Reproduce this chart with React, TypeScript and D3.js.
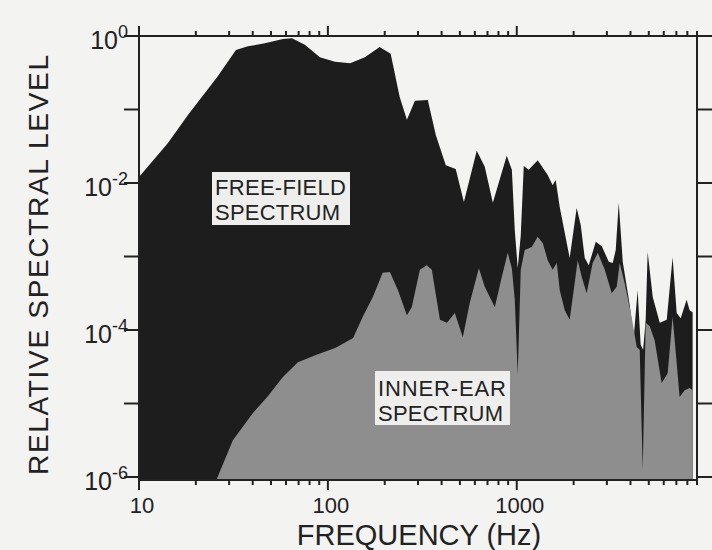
import React from 'react'
import * as d3 from 'd3'

// Free-field spectrum: frequency (Hz) and log10 of the relative level
const freeFieldHz = [
	10, 14.2, 18.2, 25.9, 32.6, 37.7, 46.4, 57.8, 64.5, 75.5, 90.7, 109, 131, 157, 188, 215, 240, 262, 289, 338,
	373, 421, 475, 525, 614, 677, 747, 885, 942, 976, 1012, 1050, 1089, 1157, 1291, 1458, 1549, 1607, 1689, 1906,
	2076, 2181, 2290, 2404, 2620, 2818, 3070, 3222, 3342, 3467, 3640, 3963, 4159, 4365, 4529, 4667, 4814, 4932, 5248,
	5715, 6223, 6685, 7026, 7379, 7932, 8225, 8531,
]
const freeFieldLog = [
	-1.92, -1.46, -1.07, -0.56, -0.19, -0.14, -0.1, -0.04, -0.03, -0.12, -0.29, -0.35, -0.37, -0.29, -0.15, -0.24,
	-0.83, -1.14, -0.88, -0.87, -1.35, -1.76, -1.81, -2.26, -1.56, -1.78, -2.27, -1.63, -1.82, -2.64, -3.16, -2.71,
	-1.77, -1.82, -1.69, -1.89, -2.03, -1.96, -2.33, -3.02, -2.34, -2.57, -3.02, -3.12, -2.8, -2.86, -3.07, -3.09,
	-2.91, -2.27, -3.07, -3.66, -4.11, -3.46, -4.2, -4.27, -3.86, -2.94, -3.55, -3.9, -3.86, -3.01, -3.77, -3.84,
	-3.59, -3.73, -3.76,
]

// Inner-ear spectrum
const innerEarHz = [
	25.6, 31.4, 40.1, 48.1, 57.8, 69.4, 86.4, 110, 136, 153, 173, 195, 213, 235, 262, 278, 307, 334, 355, 392, 427,
	470, 518, 564, 630, 677, 720, 765, 833, 896, 942, 976, 1012, 1050, 1102, 1200, 1291, 1374, 1458, 1549, 1629, 1689,
	1795, 1906, 2026, 2102, 2208, 2345, 2523, 2685, 2924, 3184, 3381, 3508, 3724, 4055, 4315, 4477, 4645, 4814, 5058,
	5370, 5848, 6295, 6685, 7026, 7278, 7745, 8225, 8531,
]
const innerEarLog = [
	-6.05, -5.5, -5.13, -4.9, -4.64, -4.44, -4.34, -4.24, -4.11, -3.82, -3.55, -3.22, -3.21, -3.46, -3.8, -3.69,
	-3.18, -3.12, -3.18, -3.86, -3.9, -3.77, -4.1, -3.63, -3.16, -3.41, -3.55, -3.69, -3.28, -2.95, -3.16, -3.59,
	-4.61, -3.18, -2.91, -2.87, -2.73, -2.82, -3.05, -3.18, -3.09, -3.46, -3.73, -3.86, -3.36, -3.05, -3.28, -3.5,
	-3.09, -2.95, -3.18, -3.5, -3.41, -3.09, -3.36, -3.82, -4.23, -4.27, -5.9, -3.9, -3.95, -4.14, -4.72, -4.59,
	-3.82, -4.45, -4.91, -4.82, -4.79, -4.82,
]

const yLabelExps = [0, -2, -4, -6]
const yTickExps = [0, -1, -2, -3, -4, -5, -6]
const xLabels = [10, 100, 1000]

const W = 712
const H = 550
const left = 139
const right = 697
const top = 36
const bottom = 480
const font = "'Liberation Sans', Arial, Helvetica, sans-serif"

export default function App() {
	const x = d3.scaleLog().domain([10, 9000]).range([left, right])
	const y = d3.scaleLog().domain([1e-6, 1]).range([477, top])

	const toPts = (hz: number[], lg: number[]) => hz.map((f, i) => ({ f, v: Math.pow(10, lg[i]) }))
	const area = d3
		.area<{ f: number; v: number }>()
		.x(d => x(d.f))
		.y0(bottom)
		.y1(d => y(d.v))

	const freePath = area(toPts(freeFieldHz, freeFieldLog)) || ''
	const innerPath = area(toPts(innerEarHz, innerEarLog)) || ''

	const xTicks = x.ticks().filter(t => t <= 9000)
	const isMajor = (t: number) => Math.abs(Math.log10(t) - Math.round(Math.log10(t))) < 1e-6

	return (
		<svg width={W} height={H} style={{ position: 'absolute', left: 0, top: 0 }} fontFamily={font}>
			<defs>
				<clipPath id="plot">
					<rect x={left} y={top} width={right - left} height={bottom - top} />
				</clipPath>
			</defs>
			<rect width={W} height={H} fill="#f3f3f1" />

			<g clipPath="url(#plot)">
				<path d={freePath} fill="#1d1d1d" />
				<path d={innerPath} fill="#8e8e8e" />
			</g>

			{/* frame */}
			<rect x={left} y={top} width={right - left} height={bottom - top} fill="none" stroke="#222" strokeWidth={2} />

			{/* top and bottom ticks */}
			{xTicks.map(t => {
				const len = isMajor(t) ? 10 : 5
				return (
					<g key={t} stroke="#222" strokeWidth={2}>
						<line x1={x(t)} x2={x(t)} y1={top} y2={top - len} />
						<line x1={x(t)} x2={x(t)} y1={bottom} y2={bottom + len} />
					</g>
				)
			})}

			{/* left and right ticks */}
			{yTickExps.map(e => (
				<g key={e} stroke="#222" strokeWidth={2}>
					<line x1={left - 15} x2={left} y1={y(Math.pow(10, e))} y2={y(Math.pow(10, e))} />
					<line x1={right} x2={right + 15} y1={y(Math.pow(10, e))} y2={y(Math.pow(10, e))} />
				</g>
			))}

			{yLabelExps.map(e => (
				<text key={e} x={128} y={y(Math.pow(10, e)) + 13} textAnchor="end" fontSize={25} fill="#222">
					10
					<tspan dy={-11} fontSize={18}>
						{e === 0 ? '0' : `-${-e}`}
					</tspan>
				</text>
			))}

			{xLabels.map(t => (
				<text key={t} x={x(t) + 3} y={513} textAnchor="middle" fontSize={22} fill="#222">
					{t}
				</text>
			))}

			<text x={419} y={545} textAnchor="middle" fontSize={29} fill="#222">
				FREQUENCY (Hz)
			</text>
			<text
				transform="translate(48,265) rotate(-90)"
				textAnchor="middle"
				fontSize={28}
				fill="#222"
				textLength={420}
				lengthAdjust="spacing"
			>
				RELATIVE SPECTRAL LEVEL
			</text>

			{/* series labels */}
			<rect x={212} y={172} width={138} height={53} fill="#eeeeec" />
			<text x={215} y={194.5} fontSize={22} fill="#222" textLength={131} lengthAdjust="spacing">
				FREE-FIELD
			</text>
			<text x={215} y={219.5} fontSize={22} fill="#222" textLength={125} lengthAdjust="spacing">
				SPECTRUM
			</text>

			<rect x={375} y={371} width={135} height={54} fill="#eeeeec" />
			<text x={378} y={396} fontSize={22} fill="#222" textLength={128} lengthAdjust="spacing">
				INNER-EAR
			</text>
			<text x={378} y={421} fontSize={22} fill="#222" textLength={125} lengthAdjust="spacing">
				SPECTRUM
			</text>
		</svg>
	)
}
